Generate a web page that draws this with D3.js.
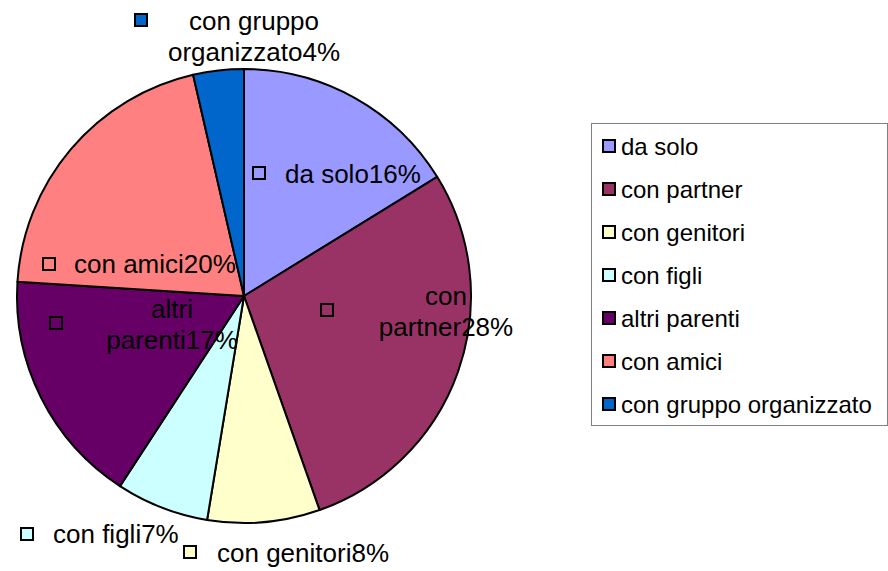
<!DOCTYPE html>
<html>
<head>
<meta charset="utf-8">
<script src="https://cdn.jsdelivr.net/npm/d3@7"></script>
<style>
  html, body { margin: 0; padding: 0; background: #fff; }
  svg { display: block; font-family: "Liberation Sans", Arial, sans-serif; }
</style>
</head>
<body>
<svg id="chart" width="888" height="571"></svg>
<script>
// data
const categories = ['da solo', 'con partner', 'con genitori', 'con figli', 'altri parenti', 'con amici', 'con gruppo organizzato'];
const values = [16.2, 28.4, 8.0, 6.6, 16.8, 20.4, 3.6];
const colors = ['#9999FF', '#993366', '#FFFFCC', '#CCFFFF', '#660066', '#FF8080', '#0066CC'];

// label layout (marker position, text anchor, line breaks)
const labelLayout = [
  { mk: [259, 173], tx: 285, ty: 183, anchor: 'start', lines: ['da solo{p}'] },
  { mk: [327, 310], tx: 446, ty: 305, anchor: 'middle', lines: ['con', 'partner{p}'] },
  { mk: [190, 552], tx: 217, ty: 562, anchor: 'start', lines: ['con genitori{p}'] },
  { mk: [27, 534], tx: 53, ty: 543, anchor: 'start', lines: ['con figli{p}'] },
  { mk: [56, 323], tx: 172, ty: 318, anchor: 'middle', lines: ['altri', 'parenti{p}'] },
  { mk: [49, 264], tx: 74, ty: 273, anchor: 'start', lines: ['con amici{p}'] },
  { mk: [141, 20], tx: 254, ty: 30, anchor: 'middle', lines: ['con gruppo', 'organizzato{p}'] }
];

const svg = d3.select('#chart');
const cx = 244, cy = 296, radius = 227;
const labelSize = 26, legendSize = 24;

const pie = d3.pie().sort(null).value(d => d)(values);
const arc = d3.arc().innerRadius(0).outerRadius(radius);

const g = svg.append('g').attr('transform', `translate(${cx},${cy})`);
g.selectAll('path')
  .data(pie).enter().append('path')
  .attr('d', arc)
  .attr('fill', (d, i) => colors[i])
  .attr('stroke', '#000')
  .attr('stroke-width', 2)
  .attr('stroke-linejoin', 'round');

// slice labels
const labels = svg.append('g');
pie.forEach((d, i) => {
  const L = labelLayout[i];
  const pct = Math.round(d.value) + '%';
  labels.append('rect')
    .attr('x', L.mk[0] - 6).attr('y', L.mk[1] - 6)
    .attr('width', 12).attr('height', 12)
    .attr('fill', colors[i]).attr('stroke', '#000').attr('stroke-width', 2);
  const t = labels.append('text')
    .attr('x', L.tx).attr('y', L.ty)
    .attr('text-anchor', L.anchor)
    .attr('font-size', labelSize).attr('fill', '#000');
  L.lines.forEach((ln, k) => {
    t.append('tspan')
      .attr('x', L.tx).attr('dy', k === 0 ? 0 : 30.5)
      .text(ln.replace('{p}', pct));
  });
});

// legend
const legX = 591, legY = 123, legW = 296, legH = 302, rowH = 43;
const legend = svg.append('g');
legend.append('rect')
  .attr('x', legX + 0.5).attr('y', legY + 0.5)
  .attr('width', legW).attr('height', legH)
  .attr('fill', '#fff').attr('stroke', '#808080').attr('stroke-width', 1);

const rows = legend.selectAll('g.row')
  .data(categories).enter().append('g')
  .attr('class', 'row')
  .attr('transform', (d, i) => `translate(${legX + 12},${legY + 23 + i * rowH})`);
rows.append('rect')
  .attr('x', 0).attr('y', -6).attr('width', 12).attr('height', 12)
  .attr('fill', (d, i) => colors[i]).attr('stroke', '#000').attr('stroke-width', 2);
rows.append('text')
  .attr('x', 18).attr('y', 9)
  .attr('font-size', legendSize).attr('fill', '#000')
  .text(d => d);
</script>
</body>
</html>
